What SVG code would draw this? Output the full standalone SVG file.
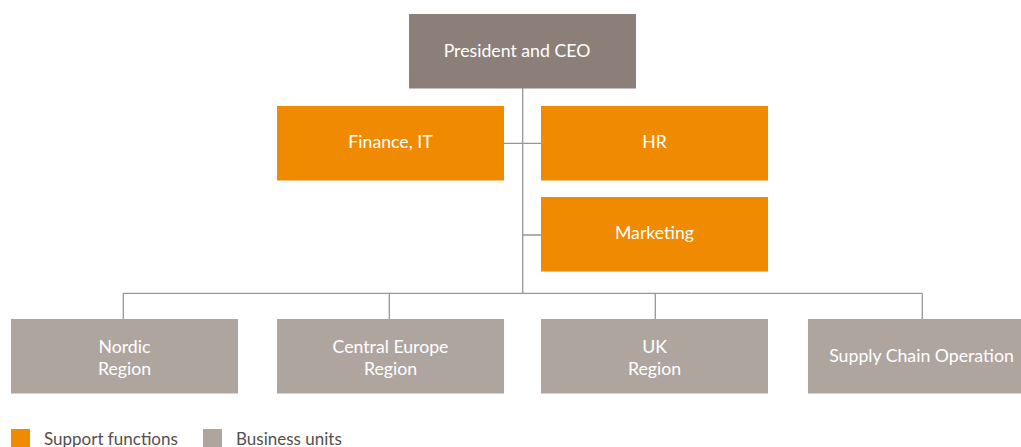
<svg xmlns="http://www.w3.org/2000/svg" width="1021" height="447" viewBox="0 0 1021 447">
<style>
.t{font-family:Lato,"Open Sans",sans-serif;font-size:17.7px;fill:#fff;text-anchor:middle}
.lg{font-family:Lato,"Open Sans",sans-serif;font-size:17px;fill:#55504d}
.c{stroke:#9a9594;stroke-width:1.3;fill:none}
.o{fill:#f08a00}
.g{fill:#afa59f}
</style>
<rect width="1021" height="447" fill="#fff"/>
<g id="connectors">
<path class="c" d="M522.7 88V293.3M504 143.3H541M522.7 235H541M123.3 293.3H922.3M123.3 293.3V319M389.3 293.3V319M655.3 293.3V319M922.3 293.3V319"/>
</g>
<g id="ceo"><rect x="409" y="14" width="227" height="74.5" fill="#8c7f7a"/><text class="t" x="517" y="56.5">President and CEO</text></g>
<g id="finance"><rect class="o" x="277" y="106" width="227" height="74.5"/><text class="t" x="390.5" y="148">Finance, IT</text></g>
<g id="hr"><rect class="o" x="541" y="106" width="227" height="74.5"/><text class="t" x="654.5" y="148">HR</text></g>
<g id="marketing"><rect class="o" x="541" y="197" width="227" height="74.5"/><text class="t" x="654.5" y="239">Marketing</text></g>
<g id="nordic"><rect class="g" x="11" y="319" width="227" height="74.5"/><text class="t" x="124.5" y="353">Nordic</text><text class="t" x="124.5" y="375">Region</text></g>
<g id="central"><rect class="g" x="277" y="319" width="227" height="74.5"/><text class="t" x="390.5" y="353">Central Europe</text><text class="t" x="390.5" y="375">Region</text></g>
<g id="uk"><rect class="g" x="541" y="319" width="227" height="74.5"/><text class="t" x="654.5" y="353">UK</text><text class="t" x="654.5" y="375">Region</text></g>
<g id="supply"><rect class="g" x="808" y="319" width="227" height="74.5"/><text class="t" x="921.5" y="362">Supply Chain Operation</text></g>
<g id="legend">
<rect class="o" x="11" y="429" width="19" height="19"/>
<text class="lg" x="44" y="445">Support functions</text>
<rect class="g" x="203" y="429" width="19" height="19"/>
<text class="lg" x="236" y="445">Business units</text>
</g>
</svg>
